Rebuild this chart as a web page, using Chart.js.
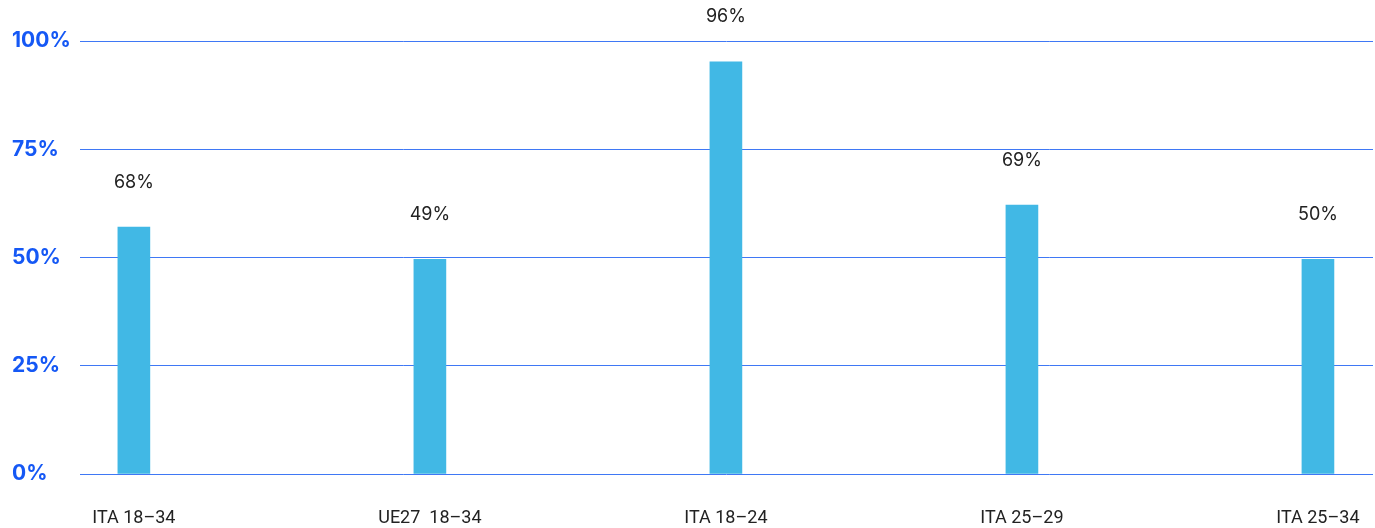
<!DOCTYPE html>
<html>
<head>
<meta charset="utf-8">
<script src="https://cdn.jsdelivr.net/npm/chart.js@4"></script>
<style>
  html, body { margin: 0; padding: 0; background: #fff; }
  #wrap { width: 1375px; height: 528px; position: relative; }
</style>
</head>
<body>
<div id="wrap"><canvas id="chart"></canvas></div>
<script>
// categorie e valori
const categories = ['ITA 18–34', 'UE27  18–34', 'ITA 18–24', 'ITA 25–29', 'ITA 25–34'];
const barValues = [57, 49.6, 95.2, 62.1, 49.6];
const valueLabels = ['68%', '49%', '96%', '69%', '50%'];
const yTicks = [0, 25, 50, 75, 100];

// etichette sopra le barre
const valueLabelPlugin = {
    id: 'valueLabels',
    afterDatasetsDraw(chart) {
        const ctx = chart.ctx;
        const meta = chart.getDatasetMeta(0);
        ctx.save();
        ctx.font = '18px Inter, "Noto Sans", sans-serif';
        ctx.fillStyle = '#222';
        ctx.textAlign = 'center';
        ctx.textBaseline = 'middle';
        meta.data.forEach((bar, i) => {
            ctx.fillText(valueLabels[i], bar.x, bar.y - 45);
        });
        ctx.restore();
    }
};

new Chart(document.getElementById('chart'), {
    type: 'bar',
    data: {
        datasets: [{
            data: barValues.map((v, i) => ({ x: i, y: v })),
            backgroundColor: '#41b8e5',
            barThickness: 32
        }]
    },
    options: {
        responsive: true,
        maintainAspectRatio: false,
        animation: false,
        layout: { padding: { top: 41, right: 2, left: 12, bottom: 0 } },
        plugins: {
            legend: { display: false },
            tooltip: { enabled: false }
        },
        scales: {
            x: {
                type: 'linear',
                offset: false,
                min: -0.182,
                max: 4.186,
                grid: { display: false, offset: false },
                border: { display: false },
                afterFit: s => { s.height = 54; s.paddingLeft = 0; s.paddingRight = 0; },
                afterBuildTicks: s => { s.ticks = categories.map((c, i) => ({ value: i })); },
                ticks: {
                    padding: 26,
                    color: '#222',
                    font: { family: '"Liberation Sans Narrow", Roboto, sans-serif', size: 18 },
                    callback: v => categories[v]
                }
            },
            y: {
                min: 0,
                max: 100,
                afterFit: s => { s.width = 68; },
                afterBuildTicks: s => { s.ticks = yTicks.map(v => ({ value: v })); },
                grid: { color: '#3f78f5', lineWidth: 1, drawTicks: false },
                border: { display: false },
                ticks: {
                    crossAlign: 'far',
                    padding: 10,
                    color: '#1558f5',
                    font: { family: 'Inter, "Noto Sans", sans-serif', size: 21, weight: 'bold' },
                    callback: v => v + '%'
                }
            }
        }
    },
    plugins: [valueLabelPlugin]
});
</script>
</body>
</html>
